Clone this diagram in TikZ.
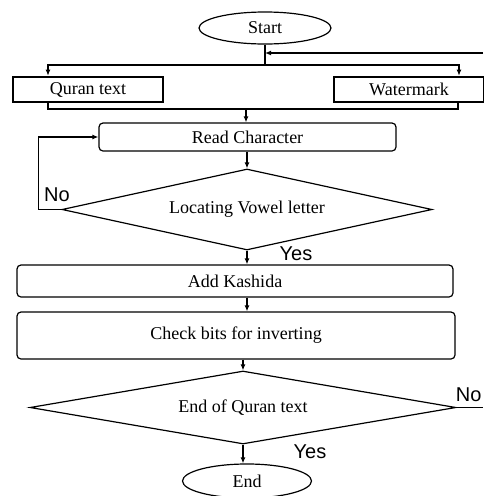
\documentclass[tikz,border=0pt]{standalone}
\usepackage{fontspec}
\setmainfont{Liberation Serif}
\newfontfamily\answerfont{Liberation Sans}
\usetikzlibrary{shapes.geometric,arrows.meta}
\begin{document}
\begin{tikzpicture}[x=1pt,y=-1pt,line width=1.2pt,
  >={Latex[length=6pt,width=5pt]},
  every node/.style={font=\fontsize{18}{20}\selectfont},
  terminal/.style={draw,ellipse,inner sep=0pt},
  inputbox/.style={draw,rectangle,line width=2.6pt,minimum height=25pt,inner sep=0pt},
  stepbox/.style={draw,rectangle,rounded corners=4pt,inner sep=0pt},
  decision/.style={draw,diamond,inner sep=0pt},
  answer/.style={font=\answerfont\fontsize{20}{22}\selectfont,inner sep=0pt}]
  \useasboundingbox (0,0) rectangle (483,496);
  \node[terminal,minimum width=132pt,minimum height=32pt] (start) at (265,28) {Start};
  \node[inputbox,minimum width=150pt] (quran) at (88,89.5) {Quran text};
  \node[inputbox,minimum width=150pt] (water) at (409,89.5) {Watermark};
  \node[stepbox,minimum width=297pt,minimum height=28pt] (read) at (247.5,137) {Read Character};
  \node[decision,aspect=4.57,minimum width=370pt,minimum height=81pt] (vowel) at (247,209.5) {Locating Vowel letter};
  \node[stepbox,minimum width=436pt,minimum height=32pt] (kashida) at (235,281) {Add Kashida};
  \node[stepbox,minimum width=438pt,minimum height=47pt] (check) at (236,335.5) {Check bits for inverting};
  \node[decision,aspect=5.84,minimum width=426pt,minimum height=73pt] (endq) at (243,407.5) {End of Quran text};
  \node[terminal,minimum width=129pt,minimum height=34pt] (stop) at (247,481) {End};
  \node[answer] (no1) at (57,195) {No};
  \node[answer] (yes1) at (296,254) {Yes};
  \node[answer,anchor=east] (no2) at (482,395) {No};
  \node[answer] (yes2) at (310,452) {Yes};
  \coordinate (split) at (265,65);
  \coordinate (merge) at (246,109);
  \coordinate (backin) at (483,53);
  \coordinate (backout) at (483,407.5);
  \draw (start) -- (split);
  \draw[->] (split) -| ([xshift=-40pt]quran.north);
  \draw[->] (split) -| ([xshift=50pt]water.north);
  \draw[->] (backin) -- (start.south |- backin);
  \draw ([xshift=-40pt]quran.south) |- (merge) -| ([xshift=49pt]water.south);
  \draw[->] (merge) -- (merge |- read.north);
  \draw[->] (read.south -| vowel.north) -- (vowel.north);
  \draw[->] (vowel.west) -- ++(-23,0) |- (read.west);
  \draw[->] (vowel.south) -- (vowel.south |- kashida.north);
  \draw[->] (vowel.south |- kashida.south) -- (vowel.south |- check.north);
  \draw[->] (endq.north |- check.south) -- (endq.north);
  \draw (endq.east) -- (backout);
  \draw[->] (endq.south) -- (endq.south |- stop.north);
\end{tikzpicture}
\end{document}
